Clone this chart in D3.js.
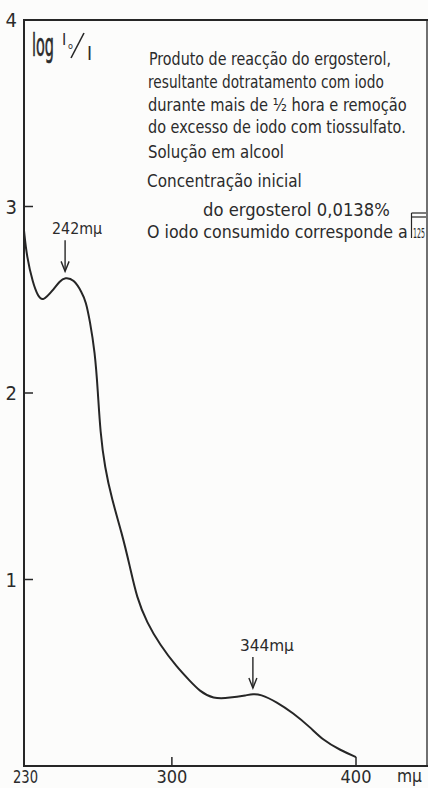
<!DOCTYPE html>
<html>
<head>
<meta charset="utf-8">
<script src="https://cdn.jsdelivr.net/npm/d3@7"></script>
<style>
  html, body { margin: 0; padding: 0; background: #fcfcfb; }
  svg { display: block; }
  text { font-family: "DejaVu Sans Condensed", "Liberation Sans", sans-serif; fill: #2b2b2b; }
</style>
</head>
<body>
<script>
// Absorption spectrum of the ergosterol / iodine reaction product
const wavelength = [219.7, 221.2, 224.5, 227.2, 229.9, 235.3, 239.1, 242.0, 246.7, 251.1,
  253.3, 255.4, 258.2, 259.8, 261.1, 263.6, 267.4, 272.8, 277.2, 281.0, 286.4, 293.5,
  302.7, 309.8, 315.2, 322.3, 331.5, 340.8, 344.0, 347.8, 357.1, 365.8, 375.0, 382.0,
  391.3, 400.0];
const logI0I = [2.87, 2.73, 2.59, 2.52, 2.49, 2.55, 2.60, 2.62, 2.61, 2.54,
  2.49, 2.39, 2.22, 2.01, 1.79, 1.60, 1.43, 1.25, 1.07, 0.90, 0.77, 0.65,
  0.53, 0.456, 0.40, 0.36, 0.365, 0.38, 0.386, 0.386, 0.343, 0.284, 0.209, 0.139,
  0.086, 0.048];

const peakWavelengths = [242, 344];
const peakValues = [2.62, 0.386];
const peakLabels = ["242mμ", "344mμ"];

const yTicks = [1, 2, 3, 4];
const yTickLabels = ["1", "2", "3", "4"];
const xTicks = [230, 300, 400];
const xTickLabels = ["230", "300", "400"];
const xUnit = "mμ";

const noteLines = [
  "Produto de reacção do ergosterol,",
  "resultante dotratamento com iodo",
  "durante mais de ½ hora e remoção",
  "do excesso de iodo com tiossulfato.",
  "Solução em alcool",
  "Concentração inicial",
  "do ergosterol 0,0138%",
  "O iodo consumido corresponde a"
];
const noteRatio = "125";

const W = 428, H = 788;
const plotL = 24, plotR = 427, plotT = 20, plotB = 766;

const svg = d3.select("body").append("svg").attr("width", W).attr("height", H);
svg.append("rect").attr("width", W).attr("height", H).attr("fill", "#fcfcfb");

const x = d3.scaleLinear().domain([230, 400]).range([43, 356]);
const y = d3.scaleLinear().domain([0, 4]).range([plotB, plotT]);

const ink = "#262626";

// narrow handwritten-style lettering: squeeze a text horizontally to a given width
function narrowText(g, str, tx, ty, size, width, anchor) {
  const t = g.append("text").attr("font-size", size).text(str);
  const natural = t.node().getComputedTextLength();
  const k = width / natural;
  let x0 = tx;
  if (anchor === "end") x0 = tx - width;
  if (anchor === "middle") x0 = tx - width / 2;
  t.attr("transform", `translate(${x0},${ty}) scale(${k},1)`);
  return t;
}

// frame: axes plus top and right borders
const frame = svg.append("g").attr("fill", "none").attr("stroke", ink);
frame.append("line").attr("x1", plotL).attr("x2", plotL).attr("y1", plotT - 1).attr("y2", plotB + 1).attr("stroke-width", 2);
frame.append("line").attr("x1", plotL - 1).attr("x2", plotR + 1).attr("y1", plotB).attr("y2", plotB).attr("stroke-width", 2);
frame.append("line").attr("x1", plotL).attr("x2", W).attr("y1", plotT).attr("y2", plotT).attr("stroke-width", 2);
frame.append("line").attr("x1", plotR).attr("x2", plotR).attr("y1", plotT).attr("y2", plotB).attr("stroke-width", 1.3);

// y ticks point inward
const yt = svg.append("g");
yTicks.forEach((t, i) => {
  if (t < 4) {
    yt.append("line").attr("x1", plotL).attr("x2", plotL + 9)
      .attr("y1", y(t)).attr("y2", y(t)).attr("stroke", ink).attr("stroke-width", 1.5);
  }
  yt.append("text").attr("x", 17).attr("y", y(t) + 7)
    .attr("text-anchor", "end").attr("font-size", 20).text(yTickLabels[i]);
});

// x ticks and labels
const xt = svg.append("g");
xTicks.forEach((t, i) => {
  if (t === 300) {
    xt.append("line").attr("x1", x(t)).attr("x2", x(t))
      .attr("y1", plotB).attr("y2", plotB - 9).attr("stroke", ink).attr("stroke-width", 1.5);
  }
  if (i === 0) {
    narrowText(xt, xTickLabels[i], x(t) - 5, 783, 18, 25, "end");
  } else {
    xt.append("text").attr("x", x(t)).attr("y", 783).attr("font-size", 18)
      .attr("text-anchor", "middle").text(xTickLabels[i]);
  }
});
narrowText(xt, xUnit, 397, 782, 18, 25, "start");

// axis title: log I0/I
const ttl = svg.append("g");
narrowText(ttl, "log", 32, 56, 32, 22, "start").attr("stroke", "#2b2b2b").attr("stroke-width", 0.6);
ttl.append("text").attr("x", 62).attr("y", 45).attr("font-size", 16).text("I");
ttl.append("text").attr("x", 68).attr("y", 49).attr("font-size", 9).text("o");
ttl.append("line").attr("x1", 71).attr("y1", 58).attr("x2", 84).attr("y2", 33)
  .attr("stroke", ink).attr("stroke-width", 1.6);
ttl.append("text").attr("x", 87).attr("y", 60).attr("font-size", 19).text("I");

// descriptive note
const noteX = [149, 148, 148, 148, 148, 147, 203, 147];
const noteY = [65, 88, 111, 133, 158, 187, 216, 238];
const noteW = [242, 236, 259, 258, 136, 155, 187, 261];
const note = svg.append("g");
noteLines.forEach((s, i) => {
  narrowText(note, s, noteX[i], noteY[i], 18, noteW[i], "start");
});
narrowText(note, noteRatio, 413, 238, 14, 12, "start");
note.append("line").attr("x1", 411.5).attr("x2", 411.5).attr("y1", 213).attr("y2", 238)
  .attr("stroke", ink).attr("stroke-width", 1.2);
note.append("line").attr("x1", 411.5).attr("x2", 426).attr("y1", 213).attr("y2", 213)
  .attr("stroke", ink).attr("stroke-width", 1.2);
note.append("line").attr("x1", 411.5).attr("x2", 426).attr("y1", 217).attr("y2", 217)
  .attr("stroke", ink).attr("stroke-width", 1.2);

// spectrum curve
const pts = wavelength.map((w, i) => [w, logI0I[i]]);
const line = d3.line().x(d => x(d[0])).y(d => y(d[1])).curve(d3.curveBasis);
svg.append("path").datum(pts).attr("d", line)
  .attr("fill", "none").attr("stroke", ink).attr("stroke-width", 2);
// curve closes down onto the axis at its last wavelength
const last = pts[pts.length - 1];
svg.append("line").attr("x1", x(last[0])).attr("x2", x(last[0]))
  .attr("y1", y(last[1])).attr("y2", plotB).attr("stroke", ink).attr("stroke-width", 1.5);

// peak markers
const pk = svg.append("g");
peakWavelengths.forEach((w, i) => {
  const px = x(w), tip = y(peakValues[i]) - 6, tail = tip - 31;
  pk.append("line").attr("x1", px).attr("x2", px).attr("y1", tail).attr("y2", tip)
    .attr("stroke", ink).attr("stroke-width", 1.4);
  pk.append("path").attr("d", `M${px - 4},${tip - 10}L${px},${tip}L${px + 4},${tip - 10}`)
    .attr("fill", "none").attr("stroke", ink).attr("stroke-width", 1.4);
  narrowText(pk, peakLabels[i], px - 13, tail - 6, 16, i === 0 ? 50 : 54, "start");
});
</script>
</body>
</html>
